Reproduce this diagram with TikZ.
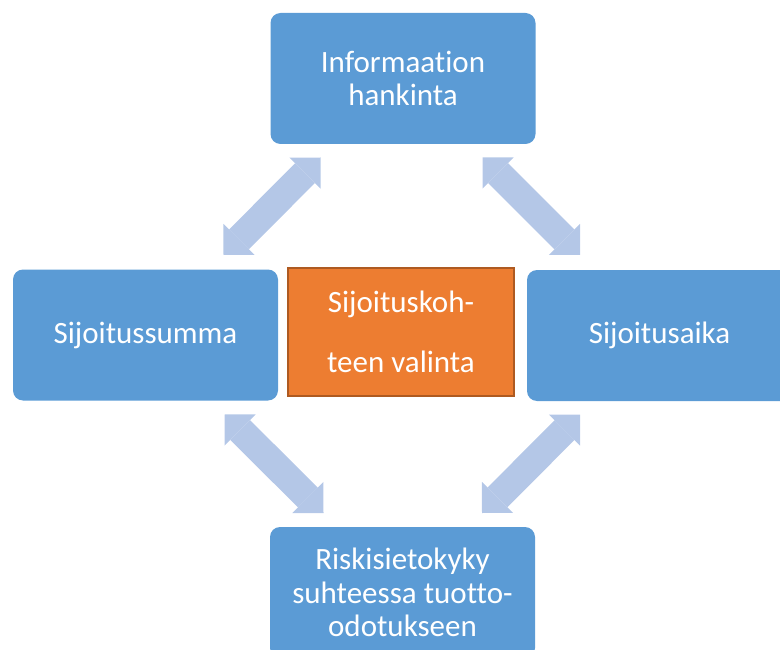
\documentclass[tikz,border=0pt]{standalone}
\usepackage{fontspec}
\setmainfont{Carlito}[Ligatures={NoCommon}]
\usetikzlibrary{arrows.meta}
\definecolor{boxblue}{HTML}{5B9BD5}
\definecolor{arrowblue}{HTML}{B4C7E7}
\definecolor{centerorange}{HTML}{ED7D31}
\definecolor{centerborder}{HTML}{AE5A21}
\tikzset{
  bluebox/.style={rectangle, rounded corners=10pt, fill=boxblue, text=white,
    minimum width=265pt, minimum height=131pt, align=center, inner sep=0pt,
    font=\fontsize{31}{33.5}\selectfont},
  centerbox/.style={rectangle, fill=centerorange, draw=centerborder, line width=2pt,
    text=white, minimum width=226pt, minimum height=128pt, align=center, inner sep=0pt,
    font=\fontsize{31}{60}\selectfont},
  blockarrow/.style={draw=arrowblue, line width=28pt,
    {Triangle[width=44pt,length=22pt,line width=0pt]}-{Triangle[width=44pt,length=22pt,line width=0pt]}}
}
\begin{document}
\begin{tikzpicture}[x=1pt,y=-1pt]
\useasboundingbox (0,0) rectangle (780,650);
\clip (0,0) rectangle (780,650);
\node[bluebox] (top) at (403,78.5) {Informaation\\hankinta};
\node[bluebox] (left) at (145.5,335) {Sijoitussumma};
\node[bluebox] (right) at (659.5,335.5) {Sijoitusaika};
\node[bluebox] (bottom) at (402.5,592.5) {Riskisietokyky\\suhteessa tuotto-\\odotukseen};
\node[centerbox] (center) at (401,332) {Sijoituskoh-\\teen valinta};
\coordinate (tla) at (320.5,157.5);
\coordinate (tlb) at (223.5,255);
\coordinate (tra) at (482.5,157.5);
\coordinate (trb) at (580,255);
\coordinate (bla) at (224.5,414.5);
\coordinate (blb) at (323.5,513);
\coordinate (bra) at (580,414.5);
\coordinate (brb) at (482,513);
\draw[blockarrow] (tla) -- (tlb);
\draw[blockarrow] (tra) -- (trb);
\draw[blockarrow] (bla) -- (blb);
\draw[blockarrow] (bra) -- (brb);
\end{tikzpicture}
\end{document}
